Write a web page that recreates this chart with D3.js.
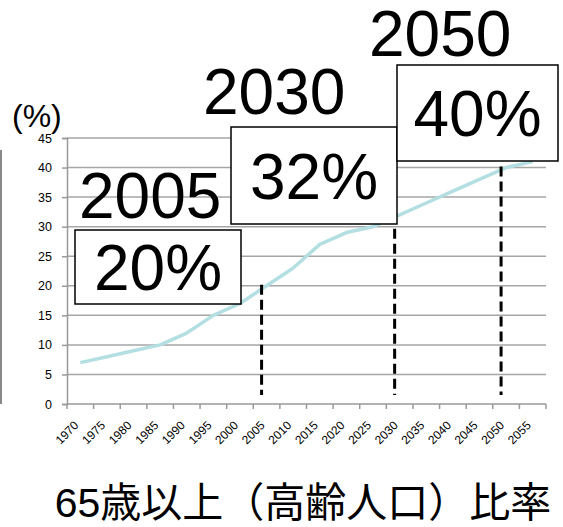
<!DOCTYPE html>
<html>
<head>
<meta charset="utf-8">
<script src="https://cdn.jsdelivr.net/npm/d3@7"></script>
<style>
  body { margin: 0; background: #fff; }
  svg { display: block; font-family: "Liberation Sans", Arial, sans-serif; }
</style>
</head>
<body>
<script>
  // data
  const years = ['1970','1975','1980','1985','1990','1995','2000','2005','2010','2015',
                 '2020','2025','2030','2035','2040','2045','2050','2055'];
  const ratio = [7, 8, 9, 10, 12, 15, 17, 20, 23, 27, 29, 30, 32, 34, 36, 38, 40, 41];
  const yTicks = [0, 5, 10, 15, 20, 25, 30, 35, 40, 45];

  // callouts: year, value text
  const calloutYears = ['2005', '2030', '2050'];
  const calloutValues = ['20%', '32%', '40%'];

  const margin = { top: 138, right: 17, bottom: 123, left: 67 };
  const width = 563 - margin.left - margin.right;
  const height = 527 - margin.top - margin.bottom;

  const svg = d3.select('body').append('svg')
    .attr('width', 563)
    .attr('height', 527);

  const g = svg.append('g')
    .attr('transform', `translate(${margin.left},${margin.top})`);

  const x = d3.scaleBand()
    .domain(years)
    .range([0, width]);

  const y = d3.scaleLinear()
    .domain([0, 45])
    .range([height, 0]);

  const cx = d => x(d) + x.bandwidth() / 2;

  // left edge line
  svg.append('line')
    .attr('x1', 1).attr('x2', 1)
    .attr('y1', 150).attr('y2', margin.top + height)
    .attr('stroke', '#888')
    .attr('stroke-width', 2);

  // horizontal gridlines
  g.append('g')
    .selectAll('line')
    .data(yTicks.filter(t => t > 0))
    .enter().append('line')
      .attr('x1', 0)
      .attr('x2', width)
      .attr('y1', d => y(d))
      .attr('y2', d => y(d))
      .attr('stroke', '#a6a6a6')
      .attr('stroke-width', 1.5);

  // y axis
  const yAxis = g.append('g')
    .call(d3.axisLeft(y).tickValues(yTicks).tickSize(5).tickPadding(10));
  yAxis.select('.domain').attr('stroke', '#999').attr('stroke-width', 1.5);
  yAxis.selectAll('.tick line').attr('stroke', '#999').attr('stroke-width', 1.5);
  yAxis.selectAll('.tick text')
    .attr('font-size', 12.5)
    .attr('fill', '#000')
    .attr('font-family', '"Liberation Sans", Arial, sans-serif');

  // x axis: ticks on band edges
  const xAxisG = g.append('g')
    .attr('transform', `translate(0,${height})`);
  xAxisG.append('line')
    .attr('x1', 0).attr('x2', width)
    .attr('stroke', '#999')
    .attr('stroke-width', 1.5);
  xAxisG.selectAll('.edge')
    .data(years.concat(['end']))
    .enter().append('line')
      .attr('class', 'edge')
      .attr('x1', (d, i) => i * x.step())
      .attr('x2', (d, i) => i * x.step())
      .attr('y1', 0)
      .attr('y2', 5)
      .attr('stroke', '#999')
      .attr('stroke-width', 1.5);
  xAxisG.selectAll('.lab')
    .data(years)
    .enter().append('text')
      .attr('class', 'lab')
      .attr('transform', d => `translate(${cx(d) - 1},${22}) rotate(-45)`)
      .attr('text-anchor', 'end')
      .attr('font-size', 12)
      .text(d => d);

  // data line
  const line = d3.line()
    .x((d, i) => cx(years[i]))
    .y(d => y(d));

  g.append('path')
    .datum(ratio)
    .attr('fill', 'none')
    .attr('stroke', '#b4dfe2')
    .attr('stroke-width', 3.5)
    .attr('stroke-linejoin', 'round')
    .attr('d', line);

  // dashed markers
  g.selectAll('.drop')
    .data(calloutYears)
    .enter().append('line')
      .attr('class', 'drop')
      .attr('x1', d => cx(d) - 5)
      .attr('x2', d => cx(d) - 5)
      .attr('y1', d => y(ratio[years.indexOf(d)]) - 1)
      .attr('y2', height - 9)
      .attr('stroke', '#000')
      .attr('stroke-width', 3)
      .attr('stroke-dasharray', '10,5');

  // callout boxes (drawn in page coordinates)
  const boxes = [
    { x: 75, y: 230, w: 166, h: 74, yx: 79, yy: 218 },
    { x: 231, y: 127, w: 166, h: 97, yx: 203, yy: 114 },
    { x: 397, y: 65, w: 161, h: 96, yx: 369, yy: 56 }
  ];

  boxes.forEach((b, i) => {
    svg.append('rect')
      .attr('x', b.x).attr('y', b.y)
      .attr('width', b.w).attr('height', b.h)
      .attr('fill', '#fff')
      .attr('stroke', '#000')
      .attr('stroke-width', 1.5);
    svg.append('text')
      .attr('x', b.x + b.w / 2)
      .attr('y', b.y + b.h / 2 + 23)
      .attr('text-anchor', 'middle')
      .attr('font-size', 64)
      .text(calloutValues[i]);
    svg.append('text')
      .attr('x', b.yx)
      .attr('y', b.yy)
      .attr('font-size', 64)
      .text(calloutYears[i]);
  });

  // unit label
  svg.append('text')
    .attr('x', 12)
    .attr('y', 127)
    .attr('font-size', 32)
    .text('(%)');

  // title
  svg.append('text')
    .attr('x', 303)
    .attr('y', 517)
    .attr('text-anchor', 'middle')
    .attr('font-size', 41)
    .attr('font-family', '"Liberation Sans", "Noto Sans CJK JP", sans-serif')
    .text('65歳以上（高齢人口）比率');
</script>
</body>
</html>
